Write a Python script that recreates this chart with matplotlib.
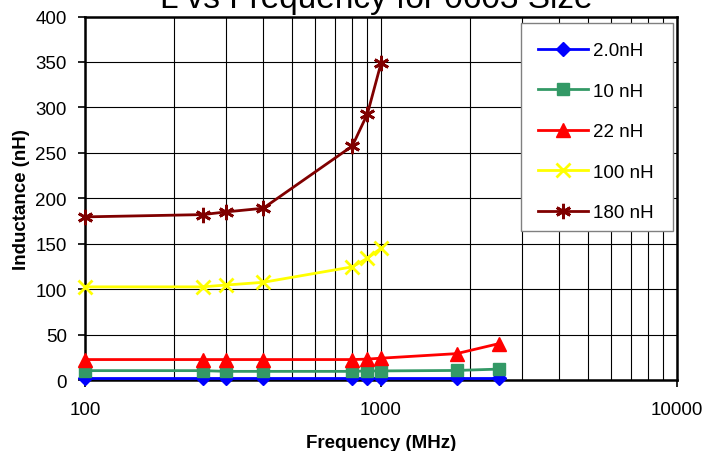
import matplotlib.pyplot as plt
from matplotlib.patches import Rectangle
from matplotlib.ticker import FixedLocator, NullFormatter, LogLocator

plt.rcParams['font.family'] = ['Liberation Sans', 'DejaVu Sans']

# Data
freq = [100, 250, 300, 400, 800, 900, 1000, 1800, 2500]
freq_short = [100, 250, 300, 400, 800, 900, 1000]

l_2n0 = [2, 2, 2, 2, 2, 2, 2, 2, 2]
l_10n = [10.3, 10.3, 9.5, 9.5, 9.5, 10, 10, 10.5, 12]
l_22n = [22.5, 22.5, 22.5, 22.5, 22.5, 23, 24, 29, 40]
l_100n = [102.5, 102.5, 104.5, 107.5, 124.5, 134, 145]
l_180n = [179.5, 182, 185, 189, 257.5, 293, 348.5]

labels = ['2.0nH', '10 nH', '22 nH', '100 nH', '180 nH']
yticks = [0, 50, 100, 150, 200, 250, 300, 350, 400]

fig = plt.figure(figsize=(7.04, 4.52), dpi=100)
ax = fig.add_axes([85 / 704, 1 - 381 / 452, 592 / 704, 363.5 / 452])

series = [
    (freq, l_2n0, '#0000FF', 'D', 7.5),
    (freq, l_10n, '#339966', 's', 8),
    (freq, l_22n, '#FF0000', '^', 9.5),
    (freq_short, l_100n, '#FFFF00', 'x', 10),
    (freq_short, l_180n, '#800000', (6, 2, 0), 11),
]
handles = []
for (x, y, col, mk, ms), lab in zip(series, labels):
    h, = ax.plot(x, y, color=col, marker=mk, markersize=ms, linewidth=2,
                 markeredgewidth=2 if mk in ('x',) or isinstance(mk, tuple) else 1,
                 markeredgecolor=col, label=lab, zorder=3, clip_on=False)
    handles.append(h)

ax.set_xscale('log')
ax.set_xlim(100, 10000)
ax.set_ylim(0, 400)
ax.set_yticks(yticks)
ax.xaxis.set_major_locator(FixedLocator([100, 1000, 10000]))
ax.xaxis.set_minor_locator(LogLocator(base=10, subs=range(2, 10)))
ax.xaxis.set_minor_formatter(NullFormatter())
ax.set_xticklabels(['100', '1000', '10000'])

ax.set_axisbelow(True)
ax.grid(True, which='major', color='black', linewidth=0.8)
ax.grid(True, which='minor', axis='x', color='black', linewidth=0.8)

ax.tick_params(axis='both', which='major', direction='out', length=5, width=1.2,
               labelsize=13.5, pad=8)
ax.tick_params(axis='x', which='minor', length=0)
ax.tick_params(axis='x', which='major', pad=10)
for sp in ax.spines.values():
    sp.set_linewidth(1.8)

ax.set_xlabel('Frequency (MHz)', fontsize=13.5, fontweight='bold', labelpad=12)
ax.set_ylabel('Inductance (nH)', fontsize=13.5, fontweight='bold', labelpad=4)

# legend box drawn over the gridlines
ax.add_patch(Rectangle((0.7365, 0.41), 0.2565, 0.572, transform=ax.transAxes,
                       facecolor='white', edgecolor='#808080', linewidth=1,
                       zorder=1.5))
ax.legend(handles=handles, loc='upper left', bbox_to_anchor=(0.765, 0.93),
          frameon=False, fontsize=13.5, handlelength=2.67, handletextpad=0.25,
          labelspacing=1.25, borderpad=0, borderaxespad=0)

fig.text(0.534, 1 - 8 / 452, 'L vs Frequency for 0603 Size', fontsize=24,
         ha='center', va='baseline')

fig.savefig('out.png', dpi=100)
